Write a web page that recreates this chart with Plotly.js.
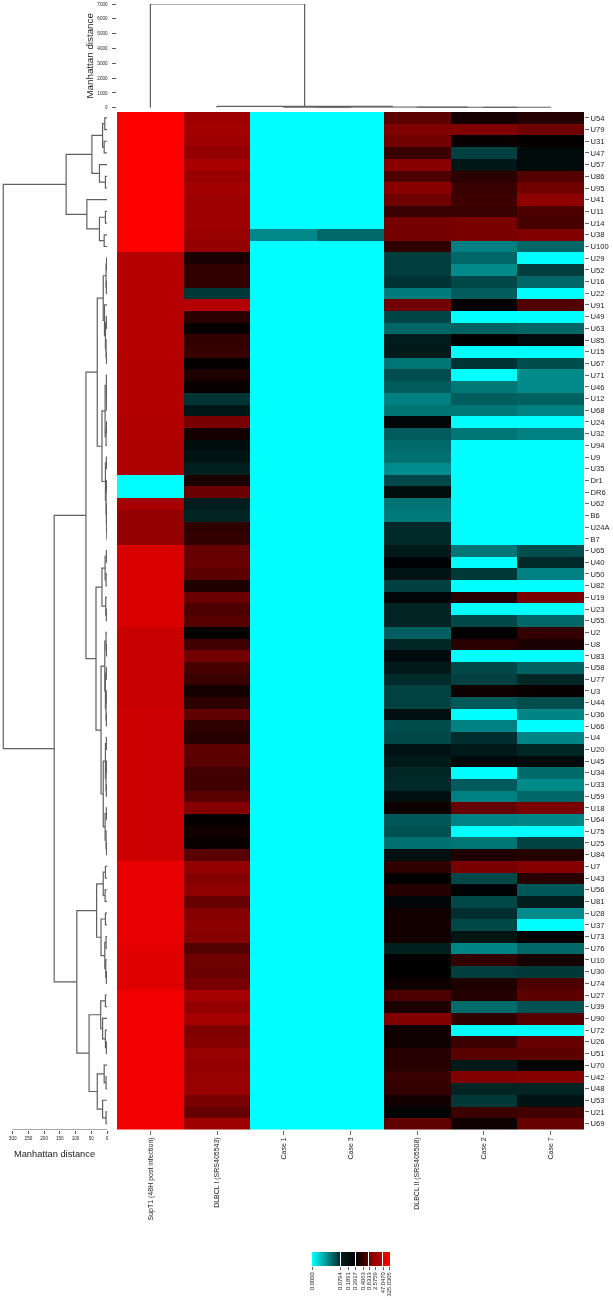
<!DOCTYPE html>
<html>
<head>
<meta charset="utf-8">
<script src="https://cdn.plot.ly/plotly-3.0.1.min.js"></script>
<style>html,body{margin:0;padding:0;background:#fff}#chart{width:613px;height:1300px;filter:blur(0.5px)}</style>
</head>
<body>
<div id="chart"></div>
<script>
// Signed colour level: -100 = cyan, 0 = black, 100 = red
const rowLabels = ["U54","U79","U31","U47","U57","U86","U95","U41","U11","U14","U38","U100","U29","U52","U16","U22","U91","U49","U63","U85","U15","U67","U71","U46","U12","U68","U24","U32","U94","U9","U35","Dr1","DR6","U62","B6","U24A","B7","U65","U40","U50","U82","U19","U23","U55","U2","U8","U83","U58","U77","U3","U44","U36","U66","U4","U20","U45","U34","U33","U59","U18","U64","U75","U25","U84","U7","U43","U56","U81","U28","U37","U73","U76","U10","U30","U74","U27","U39","U90","U72","U26","U51","U70","U42","U48","U53","U21","U69"];
const colLabels = ["SupT1 (48H post infection)","DLBCL I (SRS405543)","Case 1","Case 3","DLBCL II (SRS405508)","Case 2","Case 7"];

const supT1 = [100,100,100,100,100,100,100,100,100,100,100,100,
 71,71,71,71,71,71,71,71,71,70,70,70,70,70,69,69,68,68,68,-100,-100,66,58,58,58,
 85,85,85,85,85,85,85,79,79,79,79,79,79,79,80,80,80,80,80,80,80,80,80,80,80,80,80,
 90,90,90,90,90,90,90,89,88,88,88,95,95,95,95,95,95,95,95,95,95,95,95];
const dlbcl1 = [62,64,62,58,66,60,64,62,62,62,60,58,
 10,20,20,-22,70,17,3,20,22,2,12,3,-20,-9,47,8,-5,-8,-12,10,42,-11,-14,18,20,
 40,41,36,12,42,30,34,2,25,45,28,22,8,18,38,18,15,37,35,26,25,35,52,2,8,3,35,
 58,52,56,40,52,55,52,32,44,42,47,65,58,65,50,52,60,58,60,60,48,40,62];
const case1 = [-100,-100,-100,-100,-100,-100,-100,-100,-100,-100,-53,-100,
 -100,-100,-100,-100,-100,-100,-100,-100,-100,-100,-100,-100,-100,-100,-100,-100,-100,-100,-100,-100,-100,-100,-100,-100,-100,
 -100,-100,-100,-100,-100,-100,-100,-100,-100,-100,-100,-100,-100,-100,-100,-100,-100,-100,-100,-100,-100,-100,-100,-100,-100,-100,-100,
 -100,-100,-100,-100,-100,-100,-100,-100,-100,-100,-100,-100,-100,-100,-100,-100,-100,-100,-100,-100,-100,-100,-100];
const case3 = [-100,-100,-100,-100,-100,-100,-100,-100,-100,-100,-41,-100,
 -100,-100,-100,-100,-100,-100,-100,-100,-100,-100,-100,-100,-100,-100,-100,-100,-100,-100,-100,-100,-100,-100,-100,-100,-100,
 -100,-100,-100,-100,-100,-100,-100,-100,-100,-100,-100,-100,-100,-100,-100,-100,-100,-100,-100,-100,-100,-100,-100,-100,-100,-100,-100,
 -100,-100,-100,-100,-100,-100,-100,-100,-100,-100,-100,-100,-100,-100,-100,-100,-100,-100,-100,-100,-100,-100,-100];
const dlbcl2 = [36,50,44,22,54,30,54,44,22,46,46,18,
 -24,-24,-20,-48,44,-27,-40,-11,-10,-46,-30,-36,-50,-45,-2,-36,-42,-44,-55,-28,-5,-45,-48,-16,-16,
 -10,-1,-8,-25,-2,-14,-14,-37,-15,-4,-10,-17,-26,-26,-6,-30,-28,-7,-10,-15,-16,-6,5,-34,-32,-44,-6,
 18,1,14,-2,7,7,7,-12,0,0,6,30,10,50,6,6,15,15,22,20,7,-2,38];
const case2 = [8,50,3,-25,-9,17,22,25,22,48,48,-50,
 -40,-54,-28,-36,0,-100,-38,0,-100,-20,-100,-47,-37,-46,-100,-46,-100,-100,-100,-100,-100,-100,-100,-100,-100,
 -46,-100,-22,-100,15,-100,-28,0,17,-100,-28,-25,6,-35,-100,-50,-18,-10,-4,-100,-36,-50,40,-50,-100,-46,12,
 48,-28,-1,-28,-18,-28,-8,-52,20,-24,12,14,-42,18,-100,24,35,-10,50,-14,-22,24,6];
const case7 = [14,44,2,-4,-4,32,44,56,30,28,50,-40,
 -100,-24,-40,-100,32,-100,-40,-4,-100,-30,-54,-54,-38,-50,-100,-50,-100,-100,-100,-100,-100,-100,-100,-100,-100,
 -30,-16,-50,-100,48,-100,-40,20,10,-100,-38,-15,3,-30,-52,-100,-52,-15,-4,-42,-54,-40,48,-52,-100,-26,14,
 52,16,-34,-11,-55,-100,0,-40,9,-22,30,36,-32,34,-100,40,36,-2,52,-14,-7,26,40];

// Trees: [height, childA, childB]; a bare number is a leaf (row or column index)
const leftTree = [330,
 [130,
  [48,[14,[7,0,1],[9,2,3]],[24,4,[5,5,6]]],
  [64,7,[24,[5,8,9],[9,10,11]]]],
 [168,
  [67,
   [31,
    [12,[3,[1.5,12,13],[2,14,15]],[8,16,[5,[2,17,18],[3,19,[1.5,20,21]]]]],
    [16,[6,[2,22,[1.5,23,[1,24,25]]],[3,[1.5,26,27],28]],[5,[2,29,30],[3,[1.5,31,32],[2,33,[1,34,[0.5,35,36]]]]]]],
   [35,
    [16,[6,[2,37,38],[3,39,40]],[4,41,[2,42,43]]],
    [19,[7,[3,44,[1.5,45,46]],[5,[2,47,48],[3,[1,49,50],[2,51,52]]]],
        [12,[5,[2,53,54],[3,[1.5,55,56],[2,57,58]]],[6,[2,59,60],[3,61,[1.5,62,63]]]]]]],
  [96,
   [33,[12,[5,64,65],[6,66,67]],[19,[5,68,69],[7,[3,70,71],[4,72,[2,73,74]]]]],
   [57,[20,[5,75,76],[14,77,[5,78,[2,79,80]]]],[31,[9,81,[3,82,83]],[14,84,[3,85,86]]]]]]];
const topTree = [7000,0,[90,1,[40,[25,2,3],[25,4,[20,5,6]]]]];

const distanceTicks = [300,250,200,150,100,50,0];
const topTicks = [0,1000,2000,3000,4000,5000,6000,7000];

const keyLevels = [-100,-97,-94,-91,-88,-85,-82,-79,-76,-73,-70,-67,-64,-61,-58,-55,-52,-49,-46,-43,-40,-37,-34,-31,-28,-25,-22,-19,
 null,-12,-11,-10,-9,-8,-7,-6,-5,-4,-3,-2,-2,-1,0,
 null,2,4,7,10,13,16,19,22,25,28,30,32,
 null,44,47,50,53,56,59,62,64,66,68,70,72,74,
 null,86,88,90,92,95,98,100];
const keyTickPos = [-0.5,27.5,35.5,43,50.5,57,63,70.5,77];
const keyTickText = ["0.0000","0.0794","0.1891","0.2917","0.4063","0.8333","2.5759","47.0470","325.0305"];

const matrix = rowLabels.map((_, i) => [supT1[i],dlbcl1[i],case1[i],case3[i],dlbcl2[i],case2[i],case7[i]]);
const rowIdx = rowLabels.map((_, i) => i);
const colIdx = colLabels.map((_, i) => i);

// Turn a nested tree into polyline coordinates: pos = leaf axis, h = height axis
function walk(node, pos, h) {
  if (typeof node === 'number') return {p: node, h: 0};
  const a = walk(node[1], pos, h), b = walk(node[2], pos, h);
  pos.push(a.p, a.p, b.p, b.p, null);
  h.push(a.h, node[0], node[0], b.h, null);
  return {p: (a.p + b.p) / 2, h: node[0]};
}
const lp = [], lh = [], tp = [], th = [];
walk(leftTree, lp, lh);
walk(topTree, tp, th);

const scale = [[0,'rgb(0,255,255)'],[0.5,'rgb(0,0,0)'],[1,'rgb(255,0,0)']];
const X = px => px / 613, Y = px => 1 - px / 1300;
const H_LEFT = 117, H_RIGHT = 584, H_TOP = 112, H_BOT = 1129.5;
const font = 'Liberation Sans, Arial, sans-serif';
const treeLine = {color:'#606060', width:1.2};

const traces = [
 {type:'heatmap', z:matrix, x:colIdx, y:rowIdx, colorscale:scale, zmin:-100, zmax:100, showscale:false, xaxis:'x', yaxis:'y', hoverinfo:'skip'},
 {type:'scatter', mode:'lines', x:lh, y:lp, line:treeLine, xaxis:'x2', yaxis:'y', hoverinfo:'skip', showlegend:false},
 {type:'scatter', mode:'lines', x:[distanceTicks[0],distanceTicks[6]], y:[86.5,86.5], line:{color:'#555',width:1}, xaxis:'x2', yaxis:'y', cliponaxis:false, hoverinfo:'skip', showlegend:false},
 {type:'scatter', mode:'lines', x:tp, y:th, line:treeLine, xaxis:'x', yaxis:'y2', cliponaxis:false, hoverinfo:'skip', showlegend:false},
 {type:'heatmap', z:[keyLevels], colorscale:scale, zmin:-100, zmax:100, showscale:false, xaxis:'x3', yaxis:'y3', hoverinfo:'skip'}
];

const layout = {
 width:613, height:1300, margin:{l:0,r:0,t:0,b:0}, showlegend:false, paper_bgcolor:'#fff', plot_bgcolor:'#fff',
 font:{family:font, color:'#222'},
 xaxis:{domain:[X(H_LEFT),X(H_RIGHT)], range:[-0.5,6.5], anchor:'y', side:'bottom', tickmode:'array', tickvals:colIdx, ticktext:colLabels,
   tickangle:-90, ticks:'outside', ticklen:4, tickwidth:1, tickcolor:'#666', tickfont:{size:7,family:font,color:'#222'}, showgrid:false, zeroline:false, showline:false},
 yaxis:{domain:[Y(H_BOT),Y(H_TOP)], range:[86.5,-0.5], anchor:'x', side:'right', tickmode:'array', tickvals:rowIdx, ticktext:rowLabels,
   ticks:'outside', ticklen:4, tickwidth:1, tickcolor:'#666', tickfont:{size:7.6,family:font,color:'#222'}, showgrid:false, zeroline:false, showline:false},
 xaxis2:{domain:[X(2),X(107)], range:[334,0], anchor:'free', position:Y(H_BOT), side:'bottom', tickmode:'array', tickvals:distanceTicks,
   ticks:'outside', ticklen:3.5, tickwidth:1, tickcolor:'#555', showline:false, tickfont:{size:4.6,family:font,color:'#222'}, showgrid:false, zeroline:false,
   title:{text:'Manhattan distance', font:{size:9.3,family:font,color:'#222'}, standoff:10}},
 yaxis2:{domain:[Y(107.7),Y(4)], range:[0,7000], anchor:'x', side:'left', tickmode:'array', tickvals:topTicks,
   ticks:'outside', ticklen:4.5, ticklabelstandoff:3, tickwidth:1, tickcolor:'#555', showline:false, tickfont:{size:4.6,family:font,color:'#222'}, showgrid:false, zeroline:false,
   title:{text:'Manhattan distance', font:{size:9.8,family:font,color:'#222'}, standoff:1}},
 xaxis3:{domain:[X(312),X(390)], range:[-0.5,77.5], anchor:'y3', side:'bottom', tickmode:'array', tickvals:keyTickPos, ticktext:keyTickText, tickangle:-90,
   ticks:'outside', ticklen:3, tickwidth:1, tickcolor:'#666', tickfont:{size:5.8,family:font,color:'#222'}, showgrid:false, zeroline:false, showline:false},
 yaxis3:{domain:[Y(1266),Y(1252)], anchor:'x3', visible:false, range:[-0.5,0.5]}
};
Plotly.newPlot('chart', traces, layout, {displayModeBar:false, responsive:false});
</script>
</body>
</html>
